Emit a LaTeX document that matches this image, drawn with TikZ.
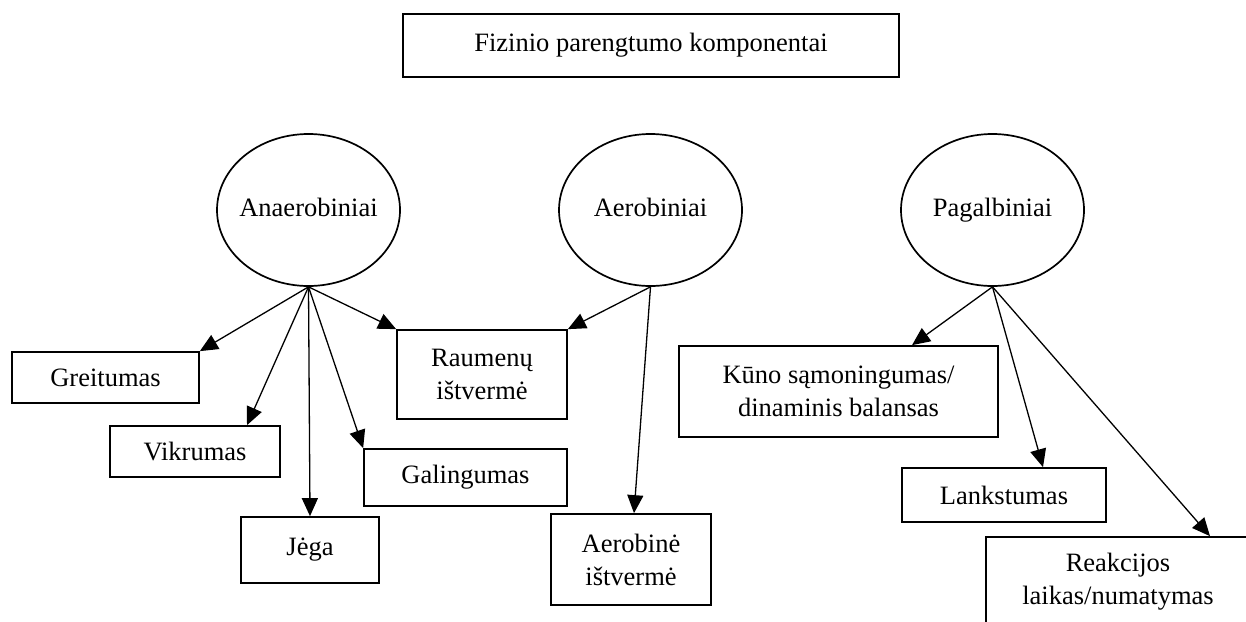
\documentclass[tikz,border=0pt]{standalone}
\usepackage{fontspec}
\setmainfont{Liberation Serif}
\usetikzlibrary{shapes.geometric,arrows.meta,calc}
\begin{document}
\begin{tikzpicture}[x=1pt,y=-1pt,
  font=\fontsize{26.5}{33}\selectfont,
  line width=1.7pt,
  box/.style={draw, rectangle, inner sep=0pt, align=center},
  oval/.style={draw, ellipse, minimum width=183pt, minimum height=152pt, inner sep=-25pt, text height=18pt, text depth=6pt},
  arr/.style={-{Triangle[length=18pt,width=16pt]}, line width=1.3pt}]
\useasboundingbox (0,0) rectangle (1246,621);

\node[box, minimum width=496pt, minimum height=63pt] (title) at (651,45.5) {Fizinio parengtumo komponentai};

\node[oval] (an) at (308.5,210) {Anaerobiniai};
\node[oval] (ae) at (650.5,210) {Aerobiniai};
\node[oval] (pa) at (992.5,210) {Pagalbiniai};

\node[box, minimum width=187pt, minimum height=51pt] (gr) at (105.5,377.5) {Greitumas};
\node[box, minimum width=170pt, minimum height=51pt] (vik) at (195,451.5) {Vikrumas};
\node[box, minimum width=138pt, minimum height=66pt] (jega) at (310,550) {Jėga};
\node[box, minimum width=203pt, minimum height=57pt] (gal) at (465.5,477.5) {Galingumas};
\node[box, minimum width=170pt, minimum height=89pt] (rau) at (482,374.5) {Raumenų\\ištvermė};
\node[box, minimum width=160pt, minimum height=91pt] (aer) at (631,559.5) {Aerobinė\\ištvermė};
\node[box, minimum width=319pt, minimum height=91pt] (kuno) at (838.5,391.5) {Kūno sąmoningumas/\\dinaminis balansas};
\node[box, minimum width=204pt, minimum height=54pt] (lank) at (1004,495) {Lankstumas};
\node[box, minimum width=264pt, minimum height=89pt] (reak) at (1118,581.5) {Reakcijos\\laikas/numatymas};

\draw[arr] (an.south) -- (gr.north east);
\draw[arr] (an.south) -- ([xshift=52pt]vik.north);
\draw[arr] (an.south) -- (jega.north);
\draw[arr] (an.south) -- (gal.north west);
\draw[arr] (an.south) -- (rau.north west);
\draw[arr] (ae.south) -- (rau.north east);
\draw[arr] (ae.south) -- ([xshift=3pt]aer.north);
\draw[arr] (pa.south) -- ([xshift=73.5pt]kuno.north);
\draw[arr] (pa.south) -- ([xshift=39pt]lank.north);
\draw[arr] (pa.south) -- ([xshift=92pt]reak.north);
\end{tikzpicture}
\end{document}
